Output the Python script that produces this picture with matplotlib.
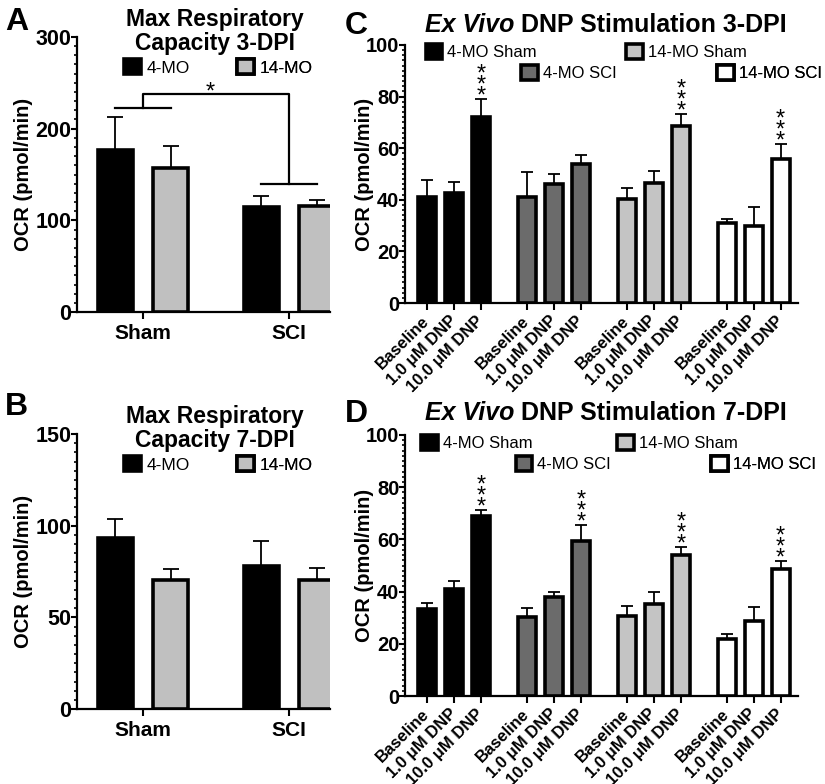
import numpy as np
import matplotlib.pyplot as plt
from matplotlib.patches import Patch
from matplotlib.ticker import MultipleLocator

plt.rcParams['font.family'] = ['Liberation Sans', 'DejaVu Sans']

# --- Max respiratory capacity (panels A, B) ---
mrc_groups = ["Sham", "SCI"]
mrc_ages = ["4-MO", "14-MO"]
mrc_colors = ["black", "#c0c0c0"]

mrc3_4mo = [177, 114.5]
mrc3_4mo_err = [36, 12]
mrc3_14mo = [157, 116]
mrc3_14mo_err = [24, 6]

mrc7_4mo = [93.3, 78]
mrc7_4mo_err = [10.3, 13.6]
mrc7_14mo = [70.4, 70.4]
mrc7_14mo_err = [6, 6.6]

# sham vs SCI bracket (panel A)
bracket_sham = 222
bracket_top = 238
bracket_sci = 140

# --- Ex vivo DNP stimulation (panels C, D) ---
conditions = ["Baseline", "1.0 μM DNP", "10.0 μM DNP"]
series = ["4-MO Sham", "4-MO SCI", "14-MO Sham", "14-MO SCI"]
series_colors = ["black", "#6b6b6b", "#c4c4c4", "white"]

dnp3_mean = [[41, 42.6, 72], [41, 46, 54], [40.3, 46.5, 68.6], [31, 29.8, 55.8]]
dnp3_err = [[6.7, 4.3, 7], [9.7, 4, 3.4], [4.3, 4.5, 4.7], [1.5, 7.4, 5.8]]
dnp3_sig = [["", "", "***"], ["", "", ""], ["", "", "***"], ["", "", "***"]]

dnp7_mean = [[33.3, 41, 69], [30.3, 38, 59.4], [30.6, 35.2, 54], [21.8, 28.7, 48.7]]
dnp7_err = [[2.3, 3, 2.3], [3.4, 1.9, 6.1], [3.9, 4.8, 3], [1.9, 5.4, 3]]
dnp7_sig = [["", "", "***"], ["", "", "***"], ["", "", "***"], ["", "", "***"]]

fig = plt.figure(figsize=(8.25, 7.84), dpi=100)

EDGE = 2.6


def style_axes(ax, ymax, major, minor, labelsize, labelpad):
    for s in ["top", "right"]:
        ax.spines[s].set_visible(False)
    for s in ["left", "bottom"]:
        ax.spines[s].set_linewidth(1.6)
    ax.set_ylim(0, ymax)
    ax.yaxis.set_major_locator(MultipleLocator(major))
    ax.yaxis.set_minor_locator(MultipleLocator(minor))
    ax.tick_params(axis="y", which="major", length=4, width=1.5, labelsize=labelsize, pad=0)
    ax.tick_params(axis="y", which="minor", length=2.5, width=1.2)
    ax.tick_params(axis="x", which="major", length=5, width=1.5)
    for lab in ax.get_yticklabels():
        lab.set_fontweight("bold")
    ax.set_ylabel("OCR (pmol/min)", fontsize=14.5, fontweight="bold", labelpad=labelpad)


def add_key(ax, label, color, x, y, fontsize):
    h = Patch(facecolor=color, edgecolor="black", linewidth=EDGE)
    leg = ax.legend([h], [label], loc="center left", bbox_to_anchor=(x, y),
                    frameon=False, fontsize=fontsize, handlelength=1.0, handleheight=1.0,
                    handletextpad=0.3, borderpad=0, borderaxespad=0)
    ax.add_artist(leg)


def add_stars(ax, x, y, s):
    # asterisks stacked vertically above the error bar
    ax.annotate("\n".join(s), xy=(x, y), xytext=(0, -6), textcoords="offset points",
                ha="center", va="bottom", fontsize=17, linespacing=0.34)


def mrc_panel(ax, m4, e4, m14, e14, ymax, major, minor, title):
    x = np.arange(len(mrc_groups))
    for off, m, e, c in [(-0.19, m4, e4, mrc_colors[0]), (0.19, m14, e14, mrc_colors[1])]:
        ax.bar(x + off, m, width=0.24, color=c, edgecolor="black", linewidth=EDGE, zorder=3)
        ax.errorbar(x + off, m, yerr=[np.zeros(len(m)), e], fmt="none", ecolor="black",
                    elinewidth=1.3, capsize=6, capthick=1.3, zorder=2)
    ax.set_xlim(-0.452, 1.28)
    ax.set_xticks(x)
    ax.set_xticklabels(mrc_groups, fontsize=15, fontweight="bold")
    style_axes(ax, ymax, major, minor, 15.5, 2)
    ax.text(0.545, 1.105, title, transform=ax.transAxes, ha="center", va="top",
            fontsize=16.5, fontweight="bold", linespacing=1.05)
    add_key(ax, mrc_ages[0], mrc_colors[0], 0.186, 0.89, 12.5)
    add_key(ax, mrc_ages[1], mrc_colors[1], 0.632, 0.89, 12.5)


def dnp_panel(ax, means, errs, sigs, key_pos):
    ticks = []
    for g in range(len(series)):
        x = g * 3.7 + np.arange(len(conditions))
        ticks.extend(x)
        ax.bar(x, means[g], width=0.67, color=series_colors[g], edgecolor="black",
               linewidth=EDGE, zorder=3)
        ax.errorbar(x, means[g], yerr=[np.zeros(len(x)), errs[g]], fmt="none", ecolor="black",
                    elinewidth=1.3, capsize=4.5, capthick=1.3, zorder=2)
        for xi, m, e, s in zip(x, means[g], errs[g], sigs[g]):
            if s:
                add_stars(ax, xi, m + e, s)
    ax.set_xlim(-0.81, 13.74)
    ax.set_xticks(ticks)
    ax.set_xticklabels(conditions * len(series), rotation=45, ha="right", va="center",
                       rotation_mode="anchor", fontsize=12, fontweight="bold")
    ax.tick_params(axis="x", pad=6)
    style_axes(ax, 100, 20, 2, 14.5, -5.8)
    for name, c, (px, py) in zip(series, series_colors, key_pos):
        add_key(ax, name, c, px, py, 12)


axA = fig.add_axes([77 / 825, 1 - 312 / 784, 253 / 825, 275 / 784])
mrc_panel(axA, mrc3_4mo, mrc3_4mo_err, mrc3_14mo, mrc3_14mo_err, 300, 100, 10,
          "Max Respiratory\nCapacity 3-DPI")
axA.plot([-0.19, 0.19], [bracket_sham, bracket_sham], color="black", lw=1.6)
axA.plot([0, 0, 1, 1], [bracket_sham, bracket_top, bracket_top, bracket_sci], color="black", lw=1.6)
axA.plot([0.81, 1.19], [bracket_sci, bracket_sci], color="black", lw=1.6)
axA.text(0.46, bracket_top - 5, "*", ha="center", va="baseline", fontsize=17)

axB = fig.add_axes([77 / 825, 1 - 709 / 784, 253 / 825, 275 / 784])
mrc_panel(axB, mrc7_4mo, mrc7_4mo_err, mrc7_14mo, mrc7_14mo_err, 150, 50, 5,
          "Max Respiratory\nCapacity 7-DPI")

axC = fig.add_axes([405 / 825, 1 - 303 / 784, 393 / 825, 258 / 784])
dnp_panel(axC, dnp3_mean, dnp3_err, dnp3_sig,
          [(0.053, 0.973), (0.295, 0.891), (0.562, 0.973), (0.794, 0.891)])

axD = fig.add_axes([405 / 825, 1 - 696 / 784, 393 / 825, 261 / 784])
dnp_panel(axD, dnp7_mean, dnp7_err, dnp7_sig,
          [(0.041, 0.969), (0.282, 0.889), (0.540, 0.969), (0.779, 0.889)])

# titles for C / D: italic "Ex Vivo" followed by upright text
for ypix, lab in [(37, "3-DPI"), (425, "7-DPI")]:
    t1 = fig.text(425 / 825, 1 - ypix / 784, "Ex Vivo", fontsize=18, fontweight="bold",
                  style="italic", va="bottom")
    fig.canvas.draw()
    fig.text(t1.get_window_extent().x1 / fig.bbox.width, 1 - ypix / 784,
             " DNP Stimulation " + lab, fontsize=18, fontweight="bold", va="bottom")

# panel letters
for x, y, letter in [(5, 7, "A"), (5, 392, "B"), (345, 11, "C"), (345, 399, "D")]:
    fig.text(x / 825, 1 - y / 784, letter, fontsize=23, fontweight="bold", va="top")

fig.savefig("out.png", dpi=100)
